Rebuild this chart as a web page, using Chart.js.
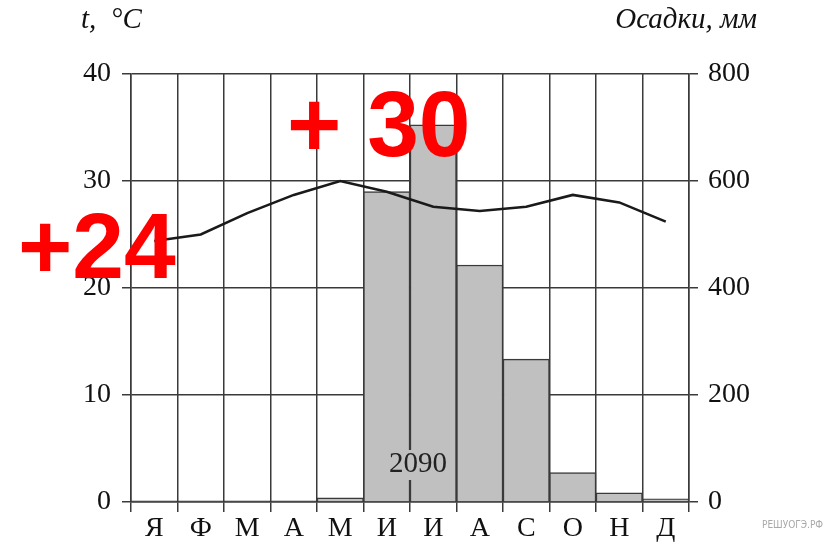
<!DOCTYPE html>
<html>
<head>
<meta charset="utf-8">
<script src="https://cdn.jsdelivr.net/npm/chart.js@4.4.1/dist/chart.umd.min.js"></script>
<style>
html,body{margin:0;padding:0;background:#fff;}
#wrap{width:837px;height:547px;position:relative;}
</style>
</head>
<body>
<div id="wrap"><canvas id="c" width="837" height="547"></canvas></div>
<script>
const months = ['Я','Ф','М','А','М','И','И','А','С','О','Н','Д'];
const precipitation = [2, 2, 2, 2, 8, 580, 705, 443, 267, 55, 17, 6];
const temperature = [24.4, 25.0, 27.0, 28.7, 30.0, 29.0, 27.6, 27.2, 27.6, 28.7, 28.0, 26.2];
const tempTicks = [0, 10, 20, 30, 40];
const precTicks = [0, 200, 400, 600, 800];
const leftTitle = 't,  °C';
const rightTitle = 'Осадки, мм';
const totalLabel = '2090';
const noteJan = '+24';
const noteMay = '+ 30';
const watermark = 'РЕШУОГЭ.РФ';

const lineCol = '#3a3a3a';
const serif = "'Liberation Serif', 'DejaVu Serif', serif";

const overlay = {
  id: 'overlay',
  afterDraw(chart) {
    const ctx = chart.ctx;
    const x = chart.scales.x;
    const ca = chart.chartArea;
    ctx.save();
    // titles
    ctx.fillStyle = '#111';
    ctx.font = "italic 29px " + serif;
    ctx.textBaseline = 'middle';
    ctx.textAlign = 'left';
    ctx.fillText(leftTitle, 81, 20);
    ctx.textAlign = 'right';
    ctx.fillText(rightTitle, 757, 20);
    // total label in the Jun/Jul area
    const cx = (x.getPixelForValue(5) + x.getPixelForValue(6)) / 2 + 8;
    ctx.fillStyle = '#c0c0c0';
    ctx.fillRect(cx - 33, ca.bottom - 52, 66, 30);
    ctx.fillStyle = '#222';
    ctx.font = "29px " + serif;
    ctx.textAlign = 'center';
    ctx.fillText(totalLabel, cx, ca.bottom - 38);
    // watermark
    ctx.fillStyle = '#a8a8a8';
    ctx.font = "10px 'DejaVu Sans Condensed', 'DejaVu Sans', sans-serif";
    ctx.textAlign = 'left';
    ctx.fillText(watermark, 762, 525);
    // red notes
    ctx.fillStyle = '#ff0000';
    ctx.font = "bold 93px 'Liberation Sans', Arial, sans-serif";
    ctx.textBaseline = 'alphabetic';
    ctx.textAlign = 'left';
    ctx.fillText(noteJan, 18, 278);
    ctx.fillText(noteMay, 287, 156);
    ctx.restore();
  }
};

new Chart(document.getElementById('c'), {
  data: {
    labels: months,
    datasets: [
      {
        type: 'line',
        data: temperature,
        yAxisID: 'y',
        borderColor: '#1a1a1a',
        borderWidth: 2.6,
        pointRadius: 0,
        tension: 0,
        order: 0
      },
      {
        type: 'bar',
        data: precipitation,
        yAxisID: 'y1',
        backgroundColor: '#c0c0c0',
        borderColor: lineCol,
        borderWidth: 1.5,
        barPercentage: 1,
        categoryPercentage: 1,
        order: 1
      }
    ]
  },
  plugins: [overlay],
  options: {
    responsive: false,
    animation: false,
    devicePixelRatio: 1,
    layout: { padding: { top: 74, left: 0, right: 0, bottom: 0 } },
    plugins: { legend: { display: false }, tooltip: { enabled: false } },
    scales: {
      x: {
        type: 'category',
        offset: true,
        z: 1,
        grid: { offset: true, color: lineCol, lineWidth: 1.5, tickLength: 10, drawTicks: true },
        border: { display: true, color: lineCol, width: 1.5 },
        ticks: { color: '#111', font: { family: serif, size: 28 }, padding: 0, maxRotation: 0, autoSkip: false },
        afterFit(s) { s.height = 45; }
      },
      y: {
        position: 'left',
        min: 0, max: 40,
        z: 1,
        afterBuildTicks(s) { s.ticks = tempTicks.map(v => ({ value: v })); },
        grid: { color: lineCol, lineWidth: 1.5, tickLength: 9 },
        border: { display: true, color: lineCol, width: 1.5 },
        ticks: { color: '#111', font: { family: serif, size: 28 }, padding: 11 },
        afterFit(s) { s.width = 131; }
      },
      y1: {
        position: 'right',
        min: 0, max: 800,
        z: 1,
        afterBuildTicks(s) { s.ticks = precTicks.map(v => ({ value: v })); },
        grid: { drawOnChartArea: false, color: lineCol, lineWidth: 1.5, tickLength: 9 },
        border: { display: true, color: lineCol, width: 1.5 },
        ticks: { color: '#111', font: { family: serif, size: 28 }, padding: 10 },
        afterFit(s) { s.width = 148; }
      }
    }
  }
});
</script>
</body>
</html>
